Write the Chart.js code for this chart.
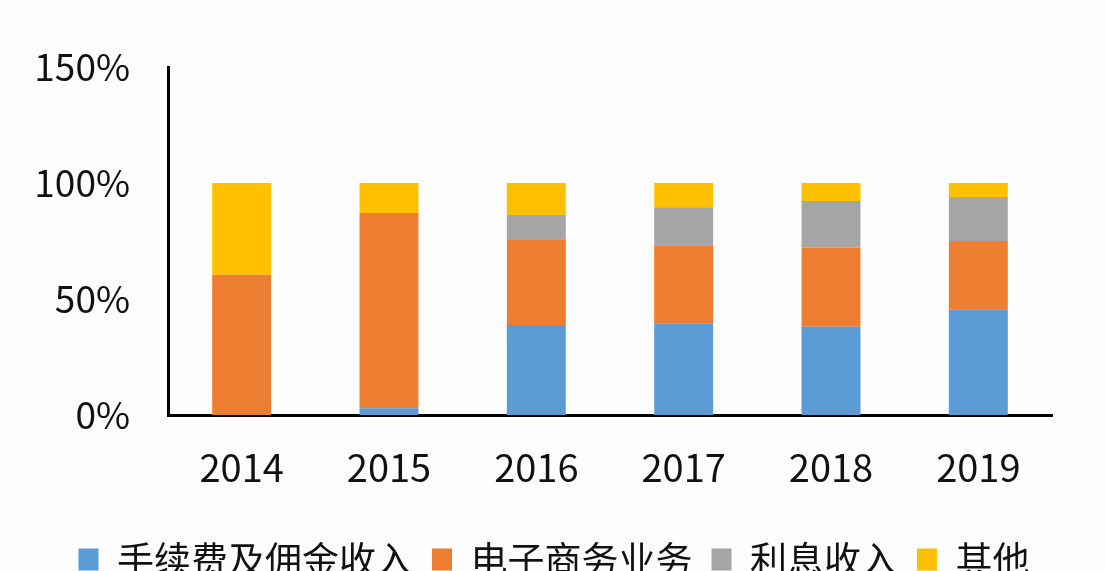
<!DOCTYPE html>
<html lang="zh">
  <head>
    <meta charset="UTF-8" />
    <title>收入结构</title>
    <script src="https://cdn.jsdelivr.net/npm/chart.js"></script>
    <style>
      html, body { margin: 0; padding: 0; background: #fdfdfe; overflow: hidden; }
      #wrap { width: 1106px; height: 588px; }
    </style>
  </head>
  <body>
    <div id="wrap"><canvas id="mix"></canvas></div>
    <script>
      const years = ["2014", "2015", "2016", "2017", "2018", "2019"];
      const seriesNames = ["手续费及佣金收入", "电子商务业务", "利息收入", "其他"];
      const commission = [0, 2.9, 38.8, 39.6, 38.0, 45.6];
      const ecommerce = [60.4, 84.2, 37.0, 33.6, 34.2, 29.4];
      const interest = [0, 0, 10.4, 16.3, 20.0, 19.0];
      const other = [39.6, 12.9, 13.8, 10.5, 7.8, 6.0];
      const yTicks = [0, 50, 100, 150];

      const colors = ["#5b9bd5", "#ed7d31", "#a5a5a5", "#ffc000"];
      const font = "'Noto Sans CJK SC', 'Noto Sans', sans-serif";

      const ds = [commission, ecommerce, interest, other].map((d, i) => ({
        label: seriesNames[i],
        data: d,
        backgroundColor: colors[i],
        borderWidth: 0,
        categoryPercentage: 1,
        barPercentage: 0.4,
      }));

      // legend in the original sits a bit right of centre
      const shiftLegend = {
        id: "shiftLegend",
        afterLayout(chart) {
          if (chart.legend) {
            chart.legend.left += 28;
            chart.legend.right += 28;
          }
        },
      };

      new Chart(document.getElementById("mix"), {
        type: "bar",
        data: { labels: years, datasets: ds },
        plugins: [shiftLegend],
        options: {
          responsive: true,
          maintainAspectRatio: false,
          animation: false,
          layout: { padding: { top: 67, right: 54, left: 0, bottom: 0 } },
          plugins: {
            tooltip: { enabled: false },
            legend: {
              position: "bottom",
              labels: {
                font: { family: font, size: 37 },
                color: "#111",
                boxWidth: 20,
                boxHeight: 22,
                padding: 19,
              },
            },
          },
          scales: {
            x: {
              stacked: true,
              grid: { display: false },
              border: { color: "#000", width: 3 },
              ticks: {
                font: { family: font, size: 38 },
                color: "#111",
                padding: 22,
              },
              afterFit: (s) => { s.height = 107; },
            },
            y: {
              stacked: true,
              min: 0,
              max: 150,
              grid: { display: false },
              border: { color: "#000", width: 3 },
              afterBuildTicks: (s) => { s.ticks = yTicks.map((v) => ({ value: v })); },
              ticks: {
                font: { family: font, size: 37 },
                color: "#111",
                padding: 30,
                callback: (v) => v + "%",
              },
              afterFit: (s) => { s.width = 168; },
            },
          },
        },
      });
    </script>
  </body>
</html>
